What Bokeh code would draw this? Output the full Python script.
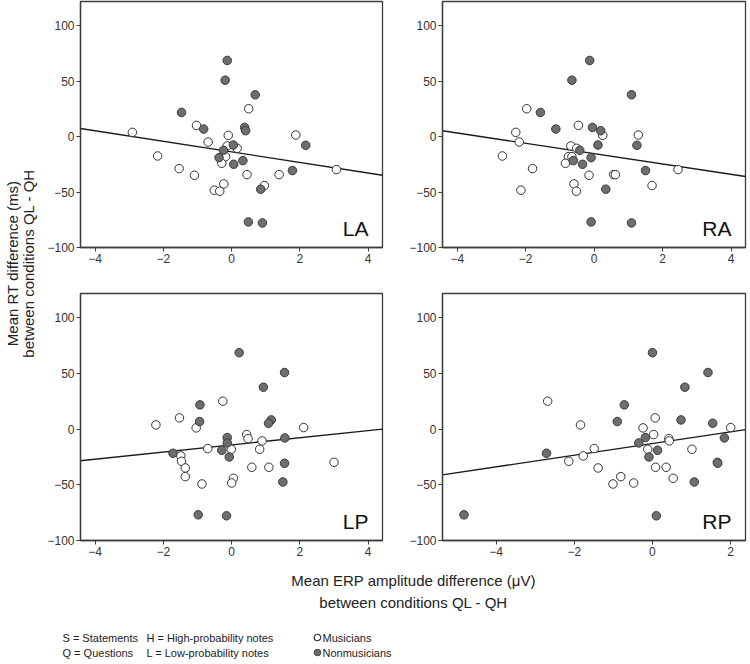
import numpy as np
from bokeh.plotting import figure
from bokeh.layouts import row, column
from bokeh.models import Range1d, Label, FixedTicker
from bokeh.core.properties import value
from bokeh.embed import file_html
from bokeh.resources import INLINE

# ---------------- data ----------------
# Mean RT difference (ms) per participant (same in every panel)
rt_musicians = [3.9, 10.2, 25.2, 1.2, 1.5, -4.8, -8.4, -10.5, -17.4, -18.0, -18.0,
                -24.0, -28.8, -29.7, -34.8, -34.2, -34.2, -42.6, -44.1, -48.3, -49.2]
rt_nonmusicians = [68.8, 51.0, 37.8, 21.9, 6.9, 8.4, 5.4, -7.5, -7.8, -12.3, -18.9,
                   -21.6, -24.9, -30.6, -47.4, -76.9, -77.8]

# Mean ERP amplitude difference (uV) per region
erp_LA_musicians = [-2.91, -1.03, 0.50, -0.10, 1.88, -0.69, -0.13, 0.16, -2.17, -0.23, -0.18,
                    -0.29, -1.54, 3.07, -1.09, 0.45, 1.39, -0.23, 0.96, -0.51, -0.35]
erp_LA_nonmusicians = [-0.13, -0.19, 0.69, -1.47, -0.82, 0.38, 0.41, 0.05, 2.17, -0.24, -0.37,
                       0.33, 0.06, 1.78, 0.85, 0.49, 0.90]

erp_RA_musicians = [-2.29, -0.46, -1.97, 0.25, 1.29, -2.19, -0.68, -0.51, -2.68, -0.75, -0.65,
                    -0.84, -1.80, 2.45, -0.15, 0.57, 0.62, -0.59, 1.69, -2.14, -0.52]
erp_RA_nonmusicians = [-0.13, -0.65, 1.09, -1.57, -1.12, -0.05, 0.19, 0.11, 1.25, -0.42, -0.09,
                       -0.61, -0.34, 1.50, 0.34, -0.09, 1.09]

erp_LP_musicians = [-2.22, -1.53, -0.26, -1.04, 2.11, 0.44, 0.48, 0.89, -0.70, -0.01, 0.82,
                    -1.49, -1.47, 3.00, -1.36, 0.59, 1.09, -1.36, 0.05, 0.00, -0.87]
erp_LP_nonmusicians = [0.22, 1.55, 0.93, -0.93, -0.94, 1.16, 1.08, -0.13, 1.56, -0.13, -0.29,
                       -1.72, -0.07, 1.55, 1.50, -0.98, -0.15]

erp_RP_musicians = [-1.84, 0.07, -2.68, -0.24, 2.00, 0.03, 0.42, 0.43, -1.49, -0.12, 1.01,
                    -1.77, -2.14, 1.66, -1.39, 0.08, 0.35, -0.81, 0.53, -0.48, -1.01]
erp_RP_nonmusicians = [0.00, 1.42, 0.83, -0.72, -0.90, 0.73, 1.54, -0.18, 1.84, -0.35, 0.13,
                       -2.71, -0.09, 1.67, 1.07, -4.82, 0.10]

panel_names = ["LA", "RA", "LP", "RP"]
x_limits = {"LA": (-4.43, 4.42), "RA": (-4.43, 4.42), "LP": (-4.43, 4.42), "RP": (-5.37, 2.38)}
x_ticks = {"LA": [-4, -2, 0, 2, 4], "RA": [-4, -2, 0, 2, 4], "LP": [-4, -2, 0, 2, 4], "RP": [-4, -2, 0, 2]}
y_limits = (-100, 122)
y_ticks = [-100, -50, 0, 50, 100]

y_title = ["Mean RT difference (ms)", "between conditions QL - QH"]
x_title = ["Mean ERP amplitude difference (\u03bcV)", "between conditions QL - QH"]
legend_col1 = ["S = Statements", "Q = Questions"]
legend_col2 = ["H = High-probability notes", "L = Low-probability notes"]
legend_groups = ["Musicians", "Nonmusicians"]

FONT = "Liberation Sans"
FRAME = "#3c3c3c"
FILL_N = "#6e6e6e"

data = {
    "LA": (erp_LA_musicians, erp_LA_nonmusicians),
    "RA": (erp_RA_musicians, erp_RA_nonmusicians),
    "LP": (erp_LP_musicians, erp_LP_nonmusicians),
    "RP": (erp_RP_musicians, erp_RP_nonmusicians),
}


def make_panel(name, width, height, bl, br, bt, bb):
    xm, xn = data[name]
    x0, x1 = x_limits[name]
    p = figure(width=width, height=height, x_range=Range1d(x0, x1),
               y_range=Range1d(*y_limits), output_backend="svg",
               toolbar_location=None, tools="",
               min_border_left=bl, min_border_right=br,
               min_border_top=bt, min_border_bottom=bb)
    p.grid.visible = False
    p.outline_line_color = FRAME
    p.outline_line_width = 1.3
    for ax in (p.xaxis[0], p.yaxis[0]):
        ax.axis_line_color = FRAME
        ax.axis_line_width = 1.3
        ax.major_tick_line_color = FRAME
        ax.major_tick_in = 0
        ax.major_tick_out = 4
        ax.minor_tick_line_color = None
        ax.major_label_text_font = FONT
        ax.major_label_text_font_size = "12px"
        ax.major_label_text_color = "#333333"
        ax.major_label_standoff = 2
    p.xaxis.ticker = FixedTicker(ticks=x_ticks[name])
    p.yaxis.ticker = FixedTicker(ticks=y_ticks)

    # regression line fitted to all participants
    allx = np.array(xm + xn)
    ally = np.array(rt_musicians + rt_nonmusicians)
    slope, icpt = np.polyfit(allx, ally, 1)
    lx = np.array([x0, x1])
    p.line(lx, slope * lx + icpt, line_color="#1a1a1a", line_width=1.4)

    p.scatter(xm, rt_musicians, size=8.5, fill_color="white", line_color="#333333", line_width=1)
    p.scatter(xn, rt_nonmusicians, size=8.5, fill_color=FILL_N, line_color="#3a3a3a", line_width=1)

    p.add_layout(Label(x=x1, y=y_limits[0], x_offset=-14, y_offset=8, text=name,
                       text_font=FONT, text_font_size="21px", text_color="#111111",
                       text_align="right", text_baseline="bottom"))
    return p


TOP_H, BOT_H = 289, 273
LW, RW = 362, 342
p_la = make_panel("LA", LW, TOP_H, 32, 24, 1, 42)
p_ra = make_panel("RA", RW, TOP_H, 32, 3, 1, 42)
p_lp = make_panel("LP", LW, BOT_H, 32, 24, 4, 22)
p_rp = make_panel("RP", RW, BOT_H, 32, 3, 4, 22)

# y-axis title (rotated)
YW = 44
YH = TOP_H + BOT_H
ylab = figure(width=YW, height=YH, x_range=Range1d(0, YW), y_range=Range1d(0, YH),
              output_backend="svg", toolbar_location=None, tools="",
              x_axis_type=None, y_axis_type=None,
              min_border_left=0, min_border_right=0, min_border_top=0, min_border_bottom=0)
ylab.grid.visible = False
ylab.outline_line_color = None
ylab.text(x=[12, 28], y=[YH - 263, YH - 263], text=y_title, angle=np.pi / 2,
          text_font=value(FONT), text_font_size="15px", text_color="#222222",
          text_align="center", text_baseline="middle")

# bottom area: x title + legend
BW, BH = YW + LW + RW, 100
bot = figure(width=BW, height=BH, x_range=Range1d(0, BW), y_range=Range1d(0, BH),
             output_backend="svg", toolbar_location=None, tools="",
             x_axis_type=None, y_axis_type=None,
             min_border_left=0, min_border_right=0, min_border_top=0, min_border_bottom=0)
bot.grid.visible = False
bot.outline_line_color = None
bot.text(x=[413, 413], y=[82, 60], text=x_title,
         text_font=value(FONT), text_font_size="15px", text_color="#222222",
         text_align="center", text_baseline="middle")
bot.text(x=[62, 62], y=[25, 10], text=legend_col1,
         text_font=value(FONT), text_font_size="11px", text_color="#222222",
         text_align="left", text_baseline="middle")
bot.text(x=[146, 146], y=[25, 10], text=legend_col2,
         text_font=value(FONT), text_font_size="11px", text_color="#222222",
         text_align="left", text_baseline="middle")
bot.scatter([317], [25], size=6.5, fill_color="white", line_color="#333333", line_width=1.2)
bot.scatter([317], [10], size=6.5, fill_color=FILL_N, line_color="#3a3a3a", line_width=1)
bot.text(x=[322, 322], y=[25, 10], text=legend_groups,
         text_font=value(FONT), text_font_size="11px", text_color="#222222",
         text_align="left", text_baseline="middle")

layout = column(row(ylab, column(row(p_la, p_ra), row(p_lp, p_rp))), bot)

open("out.html", "w").write(file_html(layout, INLINE))
